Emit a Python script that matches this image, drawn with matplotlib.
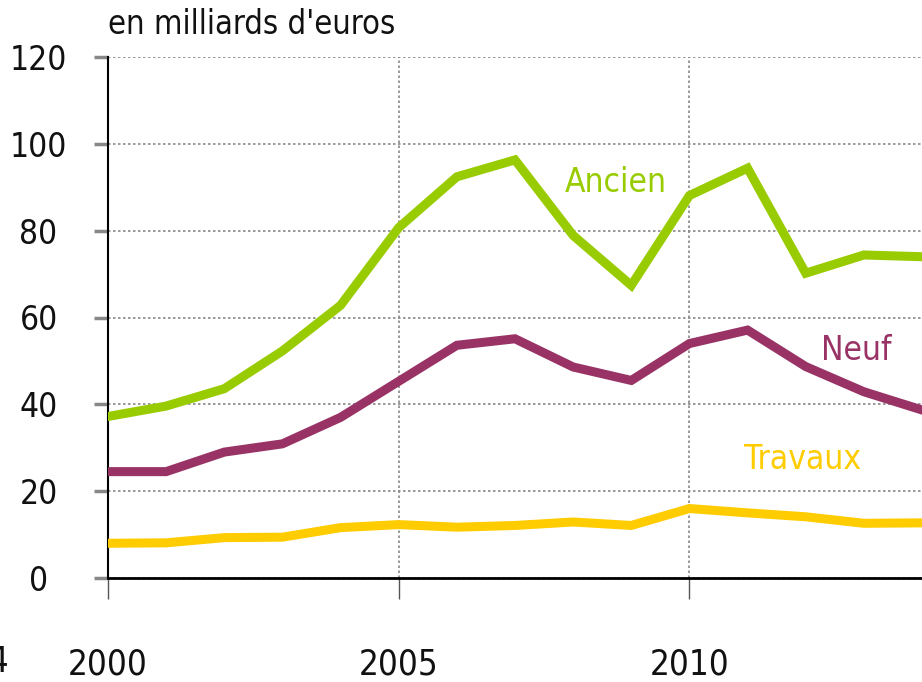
import numpy as np
import matplotlib
matplotlib.use("Agg")
import matplotlib.pyplot as plt
from matplotlib import font_manager as fm

# prefer a narrow / condensed face if one is installed, otherwise Roboto
narrow = [f for f in fm.fontManager.ttflist
          if ('Narrow' in f.name or 'Condensed' in f.name
              or f.stretch in ('condensed', 'semi-condensed', 'extra-condensed'))
          and 'Mono' not in f.name and 'Serif' not in f.name and f.weight in (400, 'normal', 'regular')]
if narrow:
    plt.rcParams['font.family'] = [narrow[0].name, 'DejaVu Sans']
    plt.rcParams['font.stretch'] = narrow[0].stretch
    scale = 1.0
else:
    plt.rcParams['font.family'] = ['Roboto', 'DejaVu Sans']
    scale = 0.85

# values (milliards d'euros)
years = list(range(2000, 2015))
ancien = [37.2, 39.6, 43.6, 52.3, 62.8, 80.7, 92.4, 96.3, 78.9, 67.4, 88.1, 94.4, 70.2, 74.4, 74.0]
neuf = [24.5, 24.5, 29.0, 30.9, 37.0, 45.3, 53.6, 55.1, 48.6, 45.5, 54.0, 57.1, 48.7, 42.9, 38.7]
travaux = [8.0, 8.1, 9.3, 9.4, 11.6, 12.3, 11.7, 12.1, 12.9, 12.1, 16.0, 15.0, 14.1, 12.6, 12.7]

series_names = ["Ancien", "Neuf", "Travaux"]
series_colors = ["#99cc00", "#993366", "#ffcc00"]
year_ticks = [2000, 2005, 2010]
value_ticks = [0, 20, 40, 60, 80, 100, 120]

fig = plt.figure(figsize=(9.22, 6.82), dpi=100)
ax = fig.add_axes([108 / 922, 104 / 682, 1 - 108 / 922, 521 / 682])

for vals, col in zip([ancien, neuf, travaux], series_colors):
    ax.plot(years, vals, color=col, lw=6.5, solid_joinstyle='miter', zorder=3)

# series labels
lab_fs = 24 * scale
ax.text(2008.73, 91, "Ancien", color=series_colors[0], fontsize=lab_fs, ha='center', va='center')
ax.text(2012.87, 52.5, "Neuf", color=series_colors[1], fontsize=lab_fs, ha='center', va='center')
ax.text(2011.94, 27.2, "Travaux", color=series_colors[2], fontsize=lab_fs, ha='center', va='center')

ax.set_xlim(2000, 2014)
ax.set_ylim(0, 120)
ax.set_xticks(year_ticks)
ax.set_yticks(value_ticks)
ax.set_xticklabels([str(y) for y in year_ticks], fontsize=25 * scale, color='#111111')
ax.set_yticklabels([str(v) for v in value_ticks], fontsize=24 * scale, color='#111111', ha='center')

ax.grid(True, color='#888888', linestyle=(0, (1.5, 1.5)), linewidth=1.2, zorder=0)
ax.set_axisbelow(True)

for s in ['top', 'right']:
    ax.spines[s].set_visible(False)
ax.spines['left'].set_color('black')
ax.spines['left'].set_linewidth(1.5)
ax.spines['bottom'].set_color('black')
ax.spines['bottom'].set_linewidth(2)

ax.tick_params(axis='x', length=15, width=1, color='#555555', pad=35)
ax.tick_params(axis='y', length=10, width=2.5, color='#888888', pad=40)

fig.text(108 / 922, 1 - 25 / 682, "en milliards d'euros", fontsize=23.5 * scale, color='#111111', va='center')
# cut-off label of the neighbouring panel
fig.text(9 / 922, 1 - 662 / 682, "2014", fontsize=25 * scale, color='#111111', ha='right', va='center')

fig.savefig("out.png", dpi=100)
